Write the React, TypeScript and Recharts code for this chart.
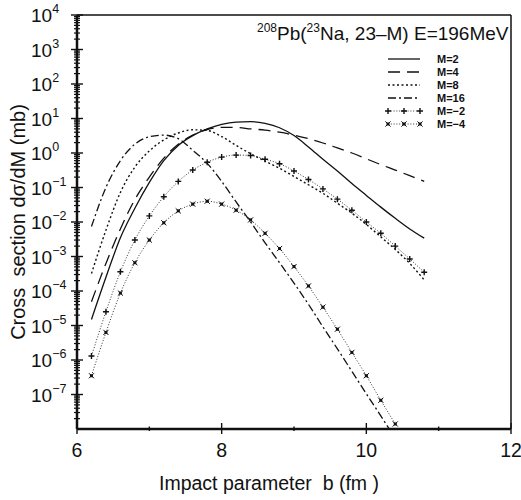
import React from 'react';
import { LineChart, Line, XAxis, YAxis, ReferenceLine, Customized } from 'recharts';

// impact parameter b (fm), one point every 0.2 fm
const IMPACT_B = [6.2, 6.4, 6.6, 6.8, 7.0, 7.2, 7.4, 7.6, 7.8, 8.0, 8.2, 8.4, 8.6, 8.8, 9.0, 9.2, 9.4, 9.6, 9.8, 10.0, 10.2, 10.4, 10.6, 10.8];

// cross sections dsigma/dM (mb)
const SIGMA_M2 = [1.5e-5, 2.5e-4, 3.5e-3, 2.5e-2, 0.14, 0.6, 1.66, 3.2, 5.0, 6.8, 7.9, 8.1, 7.2, 5.4, 3.2, 1.5, 0.66, 0.3, 0.13, 0.059, 0.027, 0.0128, 6.3e-3, 3.4e-3];
const SIGMA_M4 = [4.9e-5, 6.3e-4, 6.3e-3, 0.045, 0.2, 0.71, 1.8, 3.3, 4.8, 5.5, 5.5, 5.0, 4.6, 4.0, 3.3, 2.6, 1.95, 1.4, 1.0, 0.68, 0.46, 0.32, 0.22, 0.15];
const SIGMA_M8 = [3.2e-4, 5.8e-3, 0.072, 0.39, 1.15, 2.4, 3.8, 4.7, 4.5, 3.0, 1.66, 0.95, 0.58, 0.36, 0.21, 0.12, 0.068, 0.035, 0.018, 8.5e-3, 3.7e-3, 1.6e-3, 6.3e-4, 2.1e-4];
const SIGMA_M16 = [7.4e-3, 0.1, 0.6, 1.8, 2.95, 3.3, 2.6, 1.2, 0.5, 0.15, 0.038, 0.01, 2.5e-3, 6.6e-4, 1.7e-4, 4.1e-5, 9.1e-6, 2.1e-6, 4.7e-7, 1.05e-7, 2.4e-8, 5.4e-9];
const SIGMA_MM2 = [1.3e-6, 2.5e-5, 3.6e-4, 3.0e-3, 0.015, 0.054, 0.15, 0.32, 0.54, 0.76, 0.87, 0.85, 0.66, 0.49, 0.3, 0.17, 0.091, 0.046, 0.022, 0.01, 4.7e-3, 2.0e-3, 8.5e-4, 3.5e-4];
const SIGMA_MM4 = [3.5e-7, 6.3e-6, 8.7e-5, 6.6e-4, 3.0e-3, 9.5e-3, 0.021, 0.033, 0.04, 0.033, 0.022, 0.0115, 4.7e-3, 1.7e-3, 5.1e-4, 1.4e-4, 3.4e-5, 7.8e-6, 1.66e-6, 3.5e-7, 6.8e-8, 1.4e-8];

const Y_DECADES = [1e-7, 1e-6, 1e-5, 1e-4, 1e-3, 1e-2, 1e-1, 1e0, 1e1, 1e2, 1e3, 1e4];
const Y_EXPONENTS = ['\u22127', '\u22126', '\u22125', '\u22124', '\u22123', '\u22122', '\u22121', '0', '1', '2', '3', '4'];
const Y_MINOR_DECADES = [1e-8, 1e-7, 1e-6, 1e-5, 1e-4, 1e-3, 1e-2, 1e-1, 1e0, 1e1, 1e2, 1e3];
const Y_MINOR_STEPS = [2, 3, 4, 5, 6, 7, 8, 9];
const X_MAJOR = [6, 8, 10, 12];
const X_MINOR = [7, 9, 11];

const FONT = '"Liberation Sans", Arial, Helvetica, sans-serif';
const INK = '#111';

type Marker = 'plus' | 'cross' | null;

const SERIES: { key: string; label: string; values: number[]; dash?: string; width: number; color: string; marker: Marker }[] = [
  { key: 'm2', label: 'M=2', values: SIGMA_M2, width: 1.3, color: INK, marker: null },
  { key: 'm4', label: 'M=4', values: SIGMA_M4, dash: '12 7', width: 1.3, color: INK, marker: null },
  { key: 'm8', label: 'M=8', values: SIGMA_M8, dash: '2 2.5', width: 1.4, color: INK, marker: null },
  { key: 'm16', label: 'M=16', values: SIGMA_M16, dash: '8 3 2 3', width: 1.3, color: INK, marker: null },
  { key: 'mm2', label: 'M=\u22122', values: SIGMA_MM2, dash: '1 1.8', width: 1, color: '#333', marker: 'plus' },
  { key: 'mm4', label: 'M=\u22124', values: SIGMA_MM4, dash: '1 1.8', width: 1, color: '#333', marker: 'cross' },
];

const chartData = IMPACT_B.map((b, i) => {
  const row: Record<string, number> = { b };
  SERIES.forEach((s) => {
    if (s.values[i] !== undefined) row[s.key] = s.values[i];
  });
  return row;
});

const yTicks = [
  ...Y_DECADES,
  ...Y_MINOR_DECADES.flatMap((d) => Y_MINOR_STEPS.map((m) => d * m)),
].sort((a, b) => a - b);

const drawMarker = (kind: Marker, cx: number, cy: number, key?: string) => {
  if (kind === 'plus') {
    return (
      <path key={key} d={`M${cx - 3},${cy}h6M${cx},${cy - 3}v6`} stroke={INK} strokeWidth={1.4} fill="none" />
    );
  }
  if (kind === 'cross') {
    return (
      <g key={key}>
        <rect x={cx - 1.5} y={cy - 1.5} width={3} height={3} fill={INK} />
        <path d={`M${cx - 2.6},${cy - 2.6}l5.2,5.2M${cx - 2.6},${cy + 2.6}l5.2,-5.2`} stroke={INK} strokeWidth={1} />
      </g>
    );
  }
  return null;
};

const YTick = (props: any) => {
  const { x, y, payload } = props;
  const v = payload.value;
  const idx = Y_DECADES.findIndex((d) => Math.abs(Math.log10(d) - Math.log10(v)) < 1e-6);
  if (idx < 0) {
    return <line x1={x - 3} x2={x + 3} y1={y} y2={y} stroke={INK} strokeWidth={1.2} />;
  }
  return (
    <g>
      <line x1={x - 6} x2={x + 6} y1={y} y2={y} stroke={INK} strokeWidth={1.4} />
      <text x={x - 46} y={y + 7} fontFamily={FONT} fontSize={19} fill={INK}>
        10
        <tspan dy={-9} fontSize={12.5}>{Y_EXPONENTS[idx]}</tspan>
      </text>
    </g>
  );
};

const XTick = (props: any) => {
  const { x, y, payload } = props;
  const v = payload.value;
  if (!X_MAJOR.includes(v)) {
    return <line x1={x} x2={x} y1={y - 2.5} y2={y + 2} stroke={INK} strokeWidth={1.4} />;
  }
  return (
    <g>
      <line x1={x} x2={x} y1={y - 6} y2={y + 5} stroke={INK} strokeWidth={1.4} />
      <text x={x} y={y + 28} textAnchor="middle" fontFamily={FONT} fontSize={19.5} fill={INK}>
        {v}
      </text>
    </g>
  );
};

const Decor = () => (
  <g fontFamily={FONT} fill={INK}>
    <text x={257} y={40} fontSize={19}>
      <tspan fontSize={12} dy={-8}>208</tspan>
      <tspan dy={8}>Pb(</tspan>
      <tspan fontSize={12} dy={-8}>23</tspan>
      <tspan dy={8}>Na, 23{'\u2013'}M) E=196MeV</tspan>
    </text>
    {SERIES.map((s, i) => {
      const ry = 59 + i * 13;
      return (
        <g key={s.key}>
          <line x1={388} x2={420} y1={ry} y2={ry} stroke={s.color} strokeWidth={s.width} strokeDasharray={s.dash} />
          {s.marker && [388, 404, 420].map((mx) => drawMarker(s.marker, mx, ry, `${s.key}-${mx}`))}
          <text x={437} y={ry + 4} fontSize={11} fontWeight="bold">{s.label}</text>
        </g>
      );
    })}
    <text transform="translate(25,222) rotate(-90)" textAnchor="middle" fontSize={20} style={{ whiteSpace: 'pre' }}>
      Cross  section d{'\u03c3'}/dM (mb)
    </text>
    <text x={159} y={490} fontSize={19.5} style={{ whiteSpace: 'pre' }}>
      Impact parameter  b (fm )
    </text>
  </g>
);

export default function App() {
  return (
    <div style={{ position: 'absolute', left: 0, top: 0, width: 521, height: 500, background: '#fff' }}>
      <LineChart width={521} height={500} data={chartData} margin={{ top: 15, right: 10, left: 0, bottom: 0 }}>
        <XAxis
          dataKey="b"
          type="number"
          domain={[6, 12]}
          ticks={[...X_MAJOR, ...X_MINOR].sort((a, b) => a - b)}
          interval={0}
          height={71}
          tickSize={0}
          tickMargin={0}
          tickLine={false}
          axisLine={{ stroke: INK, strokeWidth: 2.5 }}
          tick={<XTick />}
        />
        <YAxis
          type="number"
          scale="log"
          domain={[1e-8, 1e4]}
          allowDataOverflow
          ticks={yTicks}
          interval={0}
          width={77}
          tickSize={0}
          tickMargin={0}
          tickLine={false}
          axisLine={{ stroke: INK, strokeWidth: 2.5 }}
          tick={<YTick />}
        />
        <ReferenceLine y={1e4} stroke={INK} strokeWidth={1.5} />
        <ReferenceLine x={12} stroke={INK} strokeWidth={1.5} />
        {SERIES.map((s) => (
          <Line
            key={s.key}
            dataKey={s.key}
            name={s.label}
            type="monotone"
            stroke={s.color}
            strokeWidth={s.width}
            strokeDasharray={s.dash}
            isAnimationActive={false}
            connectNulls={false}
            dot={
              s.marker
                ? (p: any) => drawMarker(s.marker, p.cx, p.cy, `${s.key}-dot-${p.index}`)
                : false
            }
            activeDot={false}
          />
        ))}
        <Customized component={Decor} />
      </LineChart>
    </div>
  );
}
